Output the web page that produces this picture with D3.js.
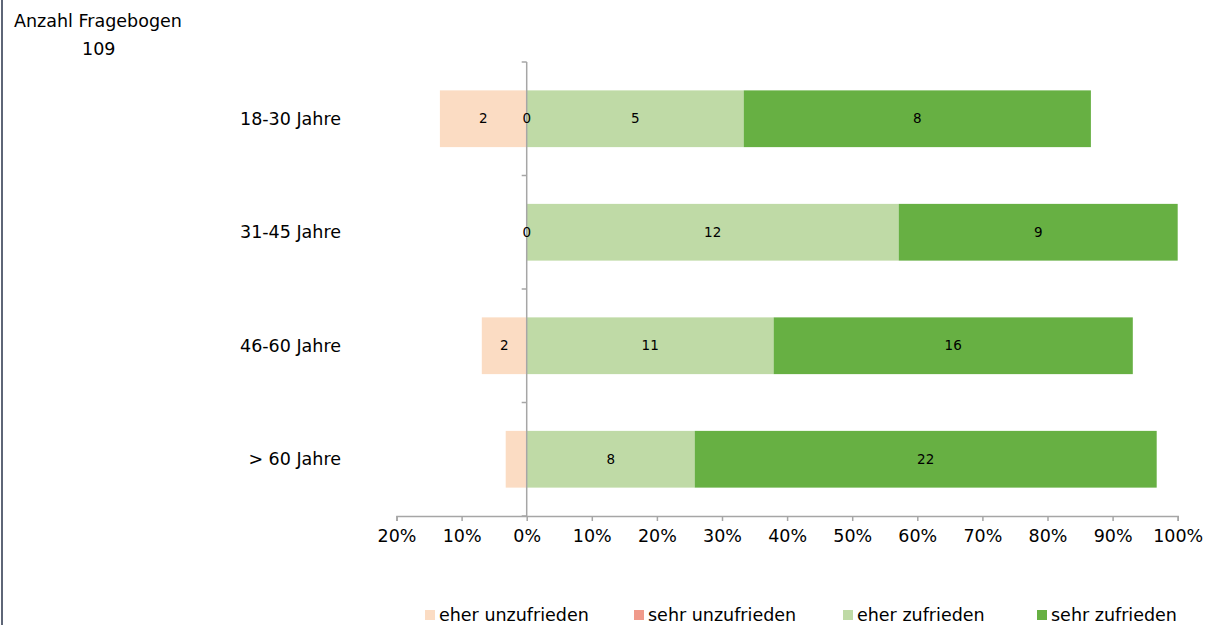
<!DOCTYPE html>
<html><head><meta charset="utf-8">
<script src="https://cdn.jsdelivr.net/npm/d3@7"></script>
<style>
html,body{margin:0;padding:0;background:#fff;}
svg{display:block;font-family:"DejaVu Sans",Verdana,sans-serif;}
</style></head>
<body>
<svg id="chart" width="1208" height="625"></svg>
<script>
// ---- data ----
const categories = ["18-30 Jahre", "31-45 Jahre", "46-60 Jahre", "> 60 Jahre"];
const seriesNames = ["eher unzufrieden", "sehr unzufrieden", "eher zufrieden", "sehr zufrieden"];
const eherUnzufrieden = [2, 0, 2, 1];
const sehrUnzufrieden = [0, 0, 0, 0];
const eherZufrieden = [5, 12, 11, 8];
const sehrZufrieden = [8, 9, 16, 22];
const zeroLabelShown = [true, true, false, false];
const tickValues = [-0.2, -0.1, 0, 0.1, 0.2, 0.3, 0.4, 0.5, 0.6, 0.7, 0.8, 0.9, 1.0];
const titleText = "Anzahl Fragebogen";
const totalCount = 109;
const colors = ["#FBDCC3", "#F09A8B", "#BFDAA6", "#67B043"];

// ---- layout ----
const svg = d3.select("#chart");
const W = 1208, H = 625;
const x = d3.scaleLinear().domain([-0.2, 1.0]).range([396.5, 1177.7]);
const y = d3.scaleBand().domain(categories).range([62, 516]).paddingInner(0.5).paddingOuter(0.25);
const yBand = d3.scaleBand().domain(categories).range([62, 516]);

// left border
svg.append("line").attr("x1", 2).attr("x2", 2).attr("y1", 0).attr("y2", H)
  .attr("stroke", "#5E6677").attr("stroke-width", 2);

// title
svg.append("text").attr("x", 14).attr("y", 27).attr("font-size", 17.5).attr("fill", "#000").text(titleText);
svg.append("text").attr("x", 82).attr("y", 55).attr("font-size", 17.5).attr("fill", "#000").text(totalCount);

// build segments
const rows = categories.map((c, i) => {
  const tot = eherUnzufrieden[i] + sehrUnzufrieden[i] + eherZufrieden[i] + sehrZufrieden[i];
  const segs = [];
  const eu = eherUnzufrieden[i] / tot;
  segs.push({cat: c, s: 0, v: eherUnzufrieden[i], x0: -eu, x1: 0});
  const su = sehrUnzufrieden[i] / tot;
  let acc = 0;
  segs.push({cat: c, s: 1, v: sehrUnzufrieden[i], x0: acc, x1: acc + su, zero: zeroLabelShown[i]}); acc += su;
  const ez = eherZufrieden[i] / tot;
  segs.push({cat: c, s: 2, v: eherZufrieden[i], x0: acc, x1: acc + ez}); acc += ez;
  const sz = sehrZufrieden[i] / tot;
  segs.push({cat: c, s: 3, v: sehrZufrieden[i], x0: acc, x1: acc + sz}); acc += sz;
  return segs;
});
const segs = rows.flat();

svg.append("g").selectAll("rect").data(segs.filter(d => d.x1 > d.x0)).join("rect")
  .attr("x", d => x(d.x0)).attr("width", d => x(d.x1) - x(d.x0))
  .attr("y", d => y(d.cat)).attr("height", y.bandwidth())
  .attr("fill", d => colors[d.s]);

// axes
const gx = svg.append("g").attr("transform", "translate(0,516)")
  .call(d3.axisBottom(x).tickValues(tickValues).tickSize(5).tickSizeOuter(5)
    .tickFormat(d => Math.round(Math.abs(d) * 100) + "%"));
gx.select(".domain").attr("stroke", "#A6A6A6").attr("stroke-width", 1.5);
gx.selectAll(".tick line").attr("stroke", "#A6A6A6").attr("stroke-width", 1.5);
gx.selectAll(".tick text").attr("font-size", 17.5).attr("fill", "#000").attr("font-family", "DejaVu Sans").attr("dy", "1.05em");

const gy = svg.append("g").attr("transform", `translate(${x(0)},0)`);
gy.append("line").attr("x1", 0).attr("x2", 0).attr("y1", 62).attr("y2", 516)
  .attr("stroke", "#A6A6A6").attr("stroke-width", 1.5);
const boundaries = categories.map(c => yBand(c)).concat([516]);
gy.selectAll("line.tk").data(boundaries).join("line").attr("class", "tk")
  .attr("x1", -5).attr("x2", 0).attr("y1", d => d).attr("y2", d => d)
  .attr("stroke", "#A6A6A6").attr("stroke-width", 1.5);

// category labels
svg.append("g").selectAll("text").data(categories).join("text")
  .attr("x", 341).attr("y", d => yBand(d) + yBand.bandwidth() / 2)
  .attr("dy", "0.35em").attr("text-anchor", "end").attr("font-size", 17.5).attr("fill", "#000")
  .text(d => d);

// data labels
const labelSegs = segs.filter(d => (d.v > 0 && x(d.x1) - x(d.x0) > 25) || (d.s === 1 && d.zero));
svg.append("g").selectAll("text").data(labelSegs).join("text")
  .attr("x", d => x((d.x0 + d.x1) / 2)).attr("y", d => y(d.cat) + y.bandwidth() / 2)
  .attr("dy", "0.35em").attr("text-anchor", "middle").attr("font-size", 13.5).attr("fill", "#000")
  .text(d => d.v);

// legend
const legendX = [425, 634, 843, 1037];
const lg = svg.append("g").selectAll("g").data(seriesNames).join("g")
  .attr("transform", (d, i) => `translate(${legendX[i]},610)`);
lg.append("rect").attr("width", 10).attr("height", 10).attr("fill", (d, i) => colors[i]);
lg.append("text").attr("x", 14).attr("y", 11).attr("font-size", 17.5).attr("fill", "#000").text(d => d);
</script>
</body></html>
